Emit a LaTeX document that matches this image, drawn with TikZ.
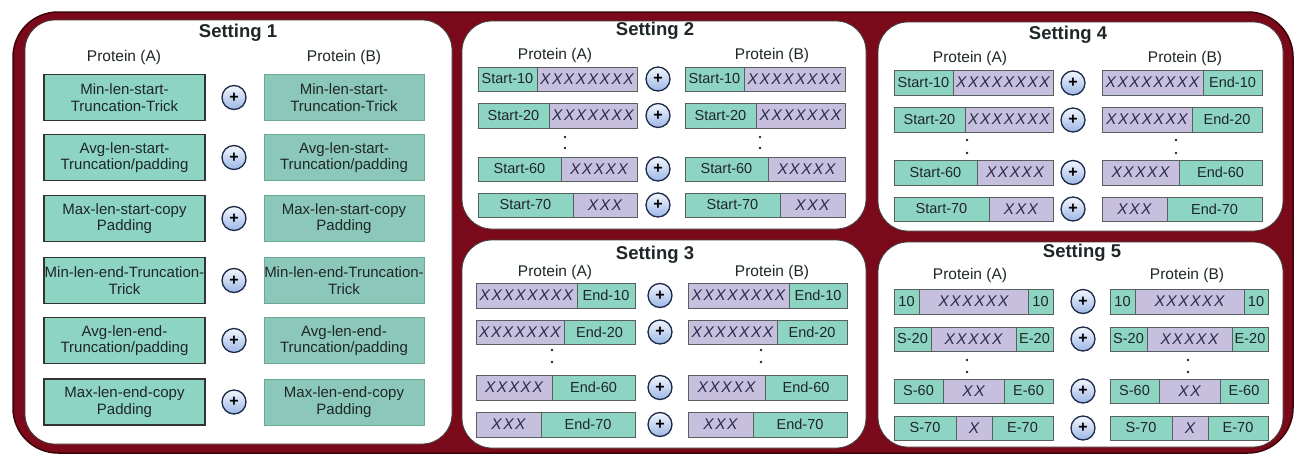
\documentclass[tikz,border=0pt]{standalone}
\usepackage{fontspec}
\setmainfont{Liberation Sans}
\newfontfamily\xfont[LetterSpace=10]{Liberation Sans}
\definecolor{outerred}{HTML}{7A0A1A}
\definecolor{outerline}{HTML}{3C0309}
\definecolor{tealA}{HTML}{8DD4C3}
\definecolor{tealB}{HTML}{8CC8B9}
\definecolor{tealBline}{HTML}{6FA797}
\definecolor{lav}{HTML}{C6BFDE}
\definecolor{segline}{HTML}{55605F}
\definecolor{txt}{HTML}{1E2628}
\definecolor{xcol}{HTML}{2B2B4A}
\definecolor{plusline}{HTML}{1C2A48}
\definecolor{plustop}{HTML}{F2F6FD}
\definecolor{plusbot}{HTML}{9DB7E6}
\newcommand{\xx}[1]{{\color{xcol}\fontsize{15.5}{16}\xfont\itshape #1}}
\newcommand{\setrow}[2]{\def\rya{#1}\def\ryb{#2}}
\newcommand{\seg}[5]{\node[segbox, fill=#4, minimum width={#3-#2}, minimum height={\ryb-\rya}] (#1) at ({(#2+#3)/2},{(\rya+\ryb)/2}) {#5};}
\tikzset{
  setbox/.style={draw=black!75, line width=0.8pt, fill=white, rounded corners=30pt},
  title/.style={font=\bfseries\fontsize{18.5}{20}\selectfont, text=txt, inner sep=0pt},
  prot/.style={font=\fontsize{15.5}{18}\selectfont, text=txt, inner sep=0pt},
  boxA/.style={draw=black!80, line width=1.2pt, fill=tealA, minimum width=161pt, minimum height=46pt, align=center, inner sep=0pt, font=\fontsize{15}{16.5}\selectfont, text=txt},
  boxB/.style={draw=tealBline, line width=0.8pt, fill=tealB, minimum width=160pt, minimum height=46pt, align=center, inner sep=0pt, font=\fontsize{15}{16.5}\selectfont, text=txt},
  segbox/.style={draw=segline, line width=0.9pt, inner sep=0pt, font=\fontsize{14.5}{16}\selectfont, text=txt},
  plus/.style={circle, draw=plusline, line width=1.3pt, top color=plustop, bottom color=plusbot, minimum size=24pt, inner sep=0pt, font=\bfseries\fontsize{16}{16}\selectfont},
  dot/.style={circle, fill=txt, minimum size=2.6pt, inner sep=0pt}
}
\begin{document}
\begin{tikzpicture}[x=1pt,y=-1pt]
\useasboundingbox (0,0) rectangle (1295,455);
\fill[white] (0,0) rectangle (1295,455);
% outer frame
\draw[fill=outerred, draw=outerline, line width=1.5pt, rounded corners=45pt] (13,12) rectangle (1293,453);
% setting boxes
\draw[setbox] (25,20) rectangle (452,444);
\draw[setbox] (462,21) rectangle (866,229);
\draw[setbox] (462,240) rectangle (866,448);
\draw[setbox] (878,22) rectangle (1283,231);
\draw[setbox] (878,242) rectangle (1283,447);

% ---------------- Setting 1
\node[title] (t1) at (238,33) {Setting 1};
\node[prot] (s1pa) at (124,57) {Protein (A)};
\node[prot] (s1pb) at (344,57) {Protein (B)};
\node[boxA] (s1a1) at (124.5,97.5) {Min-len-start-\\Truncation-Trick};
\node[boxA] (s1a2) at (124.5,157.5) {Avg-len-start-\\Truncation/padding};
\node[boxA] (s1a3) at (124.5,218.5) {Max-len-start-copy\\Padding};
\node[boxA] (s1a4) at (124.5,280.5) {Min-len-end-Truncation-\\Trick};
\node[boxA] (s1a5) at (124.5,340.5) {Avg-len-end-\\Truncation/padding};
\node[boxA] (s1a6) at (124.5,402) {Max-len-end-copy\\Padding};
\node[boxB] (s1b1) at (344,97.5) {Min-len-start-\\Truncation-Trick};
\node[boxB] (s1b2) at (344,157.5) {Avg-len-start-\\Truncation/padding};
\node[boxB] (s1b3) at (344,218.5) {Max-len-start-copy\\Padding};
\node[boxB] (s1b4) at (344,280.5) {Min-len-end-Truncation-\\Trick};
\node[boxB] (s1b5) at (344,340.5) {Avg-len-end-\\Truncation/padding};
\node[boxB] (s1b6) at (344,402) {Max-len-end-copy\\Padding};
\node[plus] (s1p1) at (234,97.5) {+};
\node[plus] (s1p2) at (234,157.5) {+};
\node[plus] (s1p3) at (234,218.5) {+};
\node[plus] (s1p4) at (234,280.5) {+};
\node[plus] (s1p5) at (234,340.5) {+};
\node[plus] (s1p6) at (234,402) {+};

% ---------------- Setting 2
\node[title] (t2) at (655,31) {Setting 2};
\node[prot] (s2pa) at (555,55) {Protein (A)};
\node[prot] (s2pb) at (772,55) {Protein (B)};
\setrow{67}{91}
\seg{s2a1t}{478}{537}{tealA}{Start-10}\seg{s2a1x}{537}{637}{lav}{\xx{XXXXXXXX}}
\seg{s2b1t}{685}{744}{tealA}{Start-10}\seg{s2b1x}{744}{845}{lav}{\xx{XXXXXXXX}}
\node[plus] (s2p1) at (658,79) {+};
\setrow{103}{128}
\seg{s2a2t}{478}{549}{tealA}{Start-20}\seg{s2a2x}{549}{637}{lav}{\xx{XXXXXXX}}
\seg{s2b2t}{685}{756}{tealA}{Start-20}\seg{s2b2x}{756}{845}{lav}{\xx{XXXXXXX}}
\node[plus] (s2p2) at (658,115.5) {+};
\setrow{157}{181}
\seg{s2a3t}{478}{561}{tealA}{Start-60}\seg{s2a3x}{561}{637}{lav}{\xx{XXXXX}}
\seg{s2b3t}{685}{768}{tealA}{Start-60}\seg{s2b3x}{768}{845}{lav}{\xx{XXXXX}}
\node[plus] (s2p3) at (658,169) {+};
\setrow{193}{217}
\seg{s2a4t}{478}{573}{tealA}{Start-70}\seg{s2a4x}{573}{637}{lav}{\xx{XXX}}
\seg{s2b4t}{685}{780}{tealA}{Start-70}\seg{s2b4x}{780}{845}{lav}{\xx{XXX}}
\node[plus] (s2p4) at (658,205) {+};
\node[dot] (s2da1) at (565,137) {};
\node[dot] (s2da2) at (565,148) {};
\node[dot] (s2db1) at (760,137) {};
\node[dot] (s2db2) at (760,148) {};

% ---------------- Setting 3
\node[title] (t3) at (655,255) {Setting 3};
\node[prot] (s3pa) at (555,272) {Protein (A)};
\node[prot] (s3pb) at (772,272) {Protein (B)};
\setrow{283}{308}
\seg{s3a1x}{476}{577}{lav}{\xx{XXXXXXXX}}\seg{s3a1t}{577}{635}{tealA}{End-10}
\seg{s3b1x}{688}{789}{lav}{\xx{XXXXXXXX}}\seg{s3b1t}{789}{847}{tealA}{End-10}
\node[plus] (s3p1) at (660,295.5) {+};
\setrow{320}{344}
\seg{s3a2x}{476}{564}{lav}{\xx{XXXXXXX}}\seg{s3a2t}{564}{635}{tealA}{End-20}
\seg{s3b2x}{688}{777}{lav}{\xx{XXXXXXX}}\seg{s3b2t}{777}{847}{tealA}{End-20}
\node[plus] (s3p2) at (660,332) {+};
\setrow{375}{400}
\seg{s3a3x}{476}{552}{lav}{\xx{XXXXX}}\seg{s3a3t}{552}{635}{tealA}{End-60}
\seg{s3b3x}{688}{765}{lav}{\xx{XXXXX}}\seg{s3b3t}{765}{847}{tealA}{End-60}
\node[plus] (s3p3) at (660,387.5) {+};
\setrow{412}{437}
\seg{s3a4x}{476}{541}{lav}{\xx{XXX}}\seg{s3a4t}{541}{635}{tealA}{End-70}
\seg{s3b4x}{688}{753}{lav}{\xx{XXX}}\seg{s3b4t}{753}{847}{tealA}{End-70}
\node[plus] (s3p4) at (660,424.5) {+};
\node[dot] (s3da1) at (552,350) {};
\node[dot] (s3da2) at (552,362) {};
\node[dot] (s3db1) at (761,350) {};
\node[dot] (s3db2) at (761,362) {};

% ---------------- Setting 4
\node[title] (t4) at (1068,35) {Setting 4};
\node[prot] (s4pa) at (970,58) {Protein (A)};
\node[prot] (s4pb) at (1185,58) {Protein (B)};
\setrow{70}{95}
\seg{s4a1t}{894}{953}{tealA}{Start-10}\seg{s4a1x}{953}{1053}{lav}{\xx{XXXXXXXX}}
\seg{s4b1x}{1102}{1203}{lav}{\xx{XXXXXXXX}}\seg{s4b1t}{1203}{1262}{tealA}{End-10}
\node[plus] (s4p1) at (1073,83) {+};
\setrow{107}{132}
\seg{s4a2t}{894}{965}{tealA}{Start-20}\seg{s4a2x}{965}{1053}{lav}{\xx{XXXXXXX}}
\seg{s4b2x}{1102}{1192}{lav}{\xx{XXXXXXX}}\seg{s4b2t}{1192}{1262}{tealA}{End-20}
\node[plus] (s4p2) at (1073,120) {+};
\setrow{160}{185}
\seg{s4a3t}{894}{977}{tealA}{Start-60}\seg{s4a3x}{977}{1053}{lav}{\xx{XXXXX}}
\seg{s4b3x}{1102}{1179}{lav}{\xx{XXXXX}}\seg{s4b3t}{1179}{1262}{tealA}{End-60}
\node[plus] (s4p3) at (1073,172.5) {+};
\setrow{197}{221}
\seg{s4a4t}{894}{989}{tealA}{Start-70}\seg{s4a4x}{989}{1053}{lav}{\xx{XXX}}
\seg{s4b4x}{1102}{1167}{lav}{\xx{XXX}}\seg{s4b4t}{1167}{1262}{tealA}{End-70}
\node[plus] (s4p4) at (1073,209) {+};
\node[dot] (s4da1) at (967,140) {};
\node[dot] (s4da2) at (967,153) {};
\node[dot] (s4db1) at (1176,140) {};
\node[dot] (s4db2) at (1176,153) {};

% ---------------- Setting 5
\node[title] (t5) at (1082,253) {Setting 5};
\node[prot] (s5pa) at (970,275) {Protein (A)};
\node[prot] (s5pb) at (1187,275) {Protein (B)};
\setrow{289}{314}
\seg{s5a1s}{894}{919}{tealA}{10}\seg{s5a1x}{919}{1028}{lav}{\xx{XXXXXX}}\seg{s5a1e}{1028}{1053}{tealA}{10}
\seg{s5b1s}{1110}{1135}{tealA}{10}\seg{s5b1x}{1135}{1244}{lav}{\xx{XXXXXX}}\seg{s5b1e}{1244}{1268}{tealA}{10}
\node[plus] (s5p1) at (1083,301.5) {+};
\setrow{327}{351}
\seg{s5a2s}{894}{931}{tealA}{S-20}\seg{s5a2x}{931}{1016}{lav}{\xx{XXXXX}}\seg{s5a2e}{1016}{1053}{tealA}{E-20}
\seg{s5b2s}{1110}{1147}{tealA}{S-20}\seg{s5b2x}{1147}{1232}{lav}{\xx{XXXXX}}\seg{s5b2e}{1232}{1268}{tealA}{E-20}
\node[plus] (s5p2) at (1083,339) {+};
\setrow{379}{403}
\seg{s5a3s}{894}{943}{tealA}{S-60}\seg{s5a3x}{943}{1004}{lav}{\xx{XX}}\seg{s5a3e}{1004}{1053}{tealA}{E-60}
\seg{s5b3s}{1110}{1159}{tealA}{S-60}\seg{s5b3x}{1159}{1220}{lav}{\xx{XX}}\seg{s5b3e}{1220}{1268}{tealA}{E-60}
\node[plus] (s5p3) at (1083,391) {+};
\setrow{416}{440}
\seg{s5a4s}{894}{956}{tealA}{S-70}\seg{s5a4x}{956}{992}{lav}{\xx{X}}\seg{s5a4e}{992}{1053}{tealA}{E-70}
\seg{s5b4s}{1110}{1172}{tealA}{S-70}\seg{s5b4x}{1172}{1208}{lav}{\xx{X}}\seg{s5b4e}{1208}{1268}{tealA}{E-70}
\node[plus] (s5p4) at (1083,428) {+};
\node[dot] (s5da1) at (967,360) {};
\node[dot] (s5da2) at (967,372) {};
\node[dot] (s5db1) at (1188,360) {};
\node[dot] (s5db2) at (1188,372) {};
\end{tikzpicture}
\end{document}
